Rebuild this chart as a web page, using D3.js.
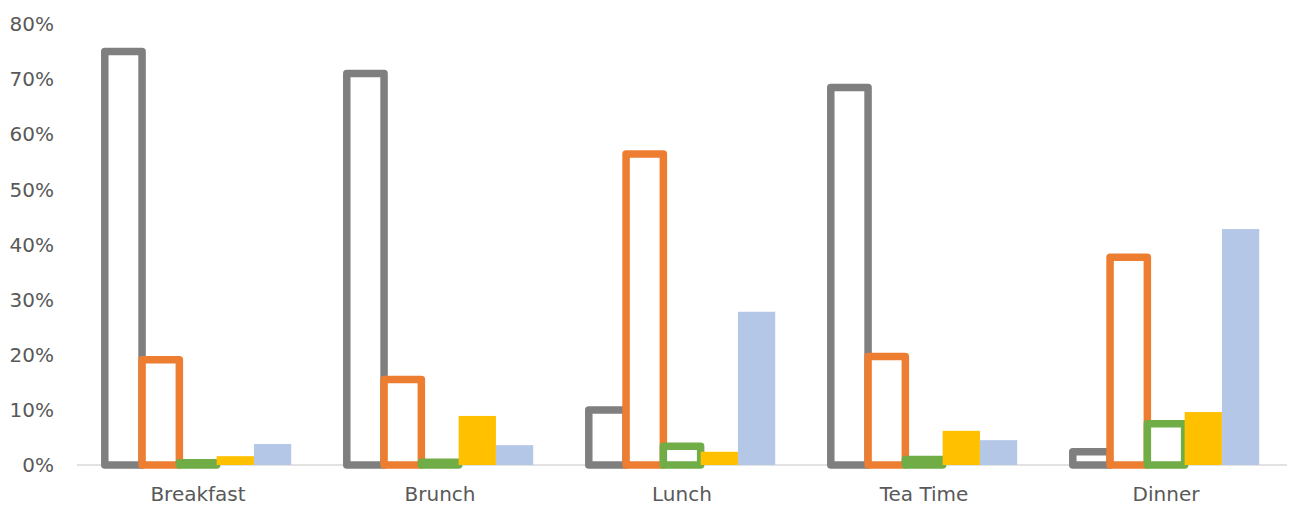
<!DOCTYPE html>
<html>
<head>
<meta charset="utf-8">
<script src="https://cdn.jsdelivr.net/npm/d3@7"></script>
<style>
  body { margin: 0; background: #fff; }
  text { font-family: "DejaVu Sans", sans-serif; fill: #595959; }
</style>
</head>
<body>
<div id="chart"></div>
<script>
// data
const meals = ["Breakfast", "Brunch", "Lunch", "Tea Time", "Dinner"]
const series = ["s1", "s2", "s3", "s4", "s5"]
const s1 = [75, 71, 10, 68.5, 2.4]
const s2 = [19.1, 15.5, 56.4, 19.7, 37.7]
const s3 = [0.4, 0.5, 3.4, 1.0, 7.5]
const s4 = [1.6, 8.9, 2.4, 6.2, 9.6]
const s5 = [3.8, 3.6, 27.8, 4.5, 42.8]
const yTicks = [0, 10, 20, 30, 40, 50, 60, 70, 80]

const colors = ["#7f7f7f", "#ed7d31", "#70ad47", "#ffc000", "#b4c7e7"]
const outlined = [true, true, true, false, false]
const values = [s1, s2, s3, s4, s5]

const width = 1294
const height = 506
const margin = {top: 24, right: 7, bottom: 41, left: 77}

const svg = d3.select("#chart")
    .append("svg")
    .attr("width", width)
    .attr("height", height)

const x0 = d3.scaleBand()
    .domain(meals)
    .range([margin.left, width - margin.right])

const x1 = d3.scaleBand()
    .domain(series)
    .range([0, x0.bandwidth()])
    .paddingInner(0)
    .paddingOuter(0.745)

const y = d3.scaleLinear()
    .domain([0, 80])
    .range([height - margin.bottom, margin.top])

// y tick labels
svg.append("g")
    .selectAll("text")
    .data(yTicks)
    .enter()
    .append("text")
    .attr("x", 54)
    .attr("y", d => y(d))
    .attr("dy", "0.36em")
    .attr("text-anchor", "end")
    .style("font-size", "20px")
    .text(d => d + "%")

// baseline
svg.append("line")
    .attr("x1", margin.left)
    .attr("x2", width - margin.right)
    .attr("y1", y(0))
    .attr("y2", y(0))
    .attr("stroke", "#d9d9d9")
    .attr("stroke-width", 1.5)

// bars, one layer per series
series.forEach((s, i) => {
    const layer = svg.append("g")
    layer.selectAll("rect")
        .data(meals.map((m, j) => ({meal: m, v: values[i][j]})))
        .enter()
        .append("rect")
        .attr("x", d => x0(d.meal) + x1(s))
        .attr("width", x1.bandwidth())
        .attr("y", d => y(d.v))
        .attr("height", d => y(0) - y(d.v))
        .attr("fill", outlined[i] ? "#fff" : colors[i])
        .attr("stroke", outlined[i] ? colors[i] : "none")
        .attr("stroke-width", outlined[i] ? 7.5 : 0)
        .attr("stroke-linejoin", "round")
})

// category labels
svg.append("g")
    .selectAll("text")
    .data(meals)
    .enter()
    .append("text")
    .attr("x", d => x0(d) + x0.bandwidth() / 2)
    .attr("y", 501)
    .attr("text-anchor", "middle")
    .style("font-size", "20px")
    .text(d => d)
</script>
</body>
</html>
